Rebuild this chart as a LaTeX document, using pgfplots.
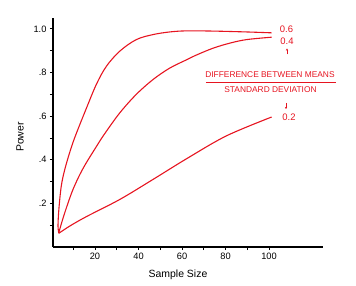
\documentclass[border=0pt]{standalone}
\usepackage{fontspec}
\setmainfont{Liberation Sans}
\usepackage{pgfplots}
\pgfplotsset{compat=1.18}
\usetikzlibrary{arrows.meta}
\definecolor{curvered}{RGB}{230,20,32}

\begin{document}
\begin{tikzpicture}[x=1bp,y=1bp]
\path[use as bounding box] (-53,-39) rectangle (303,247);
\begin{axis}[
    at={(0,0)}, anchor=south west,
    scale only axis, width=270bp, height=229bp,
    xmin=0.7, xmax=124.8, ymin=0, ymax=1.05,
    axis lines=left,
    axis line style={-, line width=1.3pt, black},
    xtick={20,40,60,80,100}, xticklabels={20,40,60,80,100},
    minor xtick={10,30,50,70,90},
    ytick={0.2,0.4,0.6,0.8,1.0}, yticklabels={.2,.4,.6,.8,1.0},
    minor ytick={0.1,0.3,0.5,0.7,0.9},
    tick align=outside,
    major tick length=3bp, minor tick length=3bp,
    tick style={black, line width=0.9pt},
    ticklabel style={font=\fontsize{9.3}{11}\selectfont},
    /pgf/number format/assume math mode=true,
    clip=false,
  ]
  % effect size 0.6
  \addplot[draw=curvered, color=curvered, line width=1.1pt, smooth, tension=0.55] coordinates {
    (3.4,0.063)(3.0,0.096)(3.4,0.173)(4.5,0.279)(6.1,0.355)(8.8,0.447)
    (11.2,0.515)(16.0,0.635)(20.6,0.745)(25.2,0.828)(31.4,0.898)(39,0.951)
    (46.7,0.974)(54.3,0.986)(62,0.991)(74.3,0.990)(89.7,0.986)(101.2,0.982)
  };
  % effect size 0.4
  \addplot[draw=curvered, color=curvered, line width=1.1pt, smooth, tension=0.55] coordinates {
    (3.4,0.063)(3.8,0.081)(6.1,0.157)(9.9,0.264)(14.5,0.36)(20.6,0.46)
    (24.5,0.52)(31.4,0.615)(39,0.70)(46.7,0.768)(54.3,0.820)(62,0.858)
    (66.8,0.881)(74.4,0.912)(82.1,0.935)(89.7,0.951)(101.2,0.962)
  };
  % effect size 0.2
  \addplot[draw=curvered, color=curvered, line width=1.1pt, smooth, tension=0.55] coordinates {
    (3.4,0.063)(8.4,0.096)(16,0.139)(31.4,0.218)(46.7,0.31)(62.8,0.409)
    (80.5,0.51)(101.2,0.596)
  };
\end{axis}
% axis titles
\node[font=\fontsize{10.5}{12}\selectfont, rotate=90] at (-33,110) {Power};
\node[font=\fontsize{10.5}{12}\selectfont] at (125,-28) {Sample Size};
% curve labels
\begin{scope}[curvered, font=\fontsize{9.5}{11}\selectfont]
  \node at (233.5,218) {0.6};
  \node at (234,206) {0.4};
  \draw[line width=0.6pt, -{Stealth[length=2.2pt,width=2.2pt]}] (234,192.5) -- (234,198.5);
  \node[font=\fontsize{8.4}{10}\selectfont] at (217,172) {DIFFERENCE BETWEEN MEANS};
  \draw[line width=0.8pt] (153,165) -- (283,165);
  \node[font=\fontsize{8.4}{10}\selectfont] at (217.5,157) {STANDARD DEVIATION};
  \draw[line width=0.6pt, -{Stealth[length=2.2pt,width=2.2pt]}] (233,144) -- (233,138);
  \node at (236,130) {0.2};
\end{scope}
\end{tikzpicture}
\end{document}
